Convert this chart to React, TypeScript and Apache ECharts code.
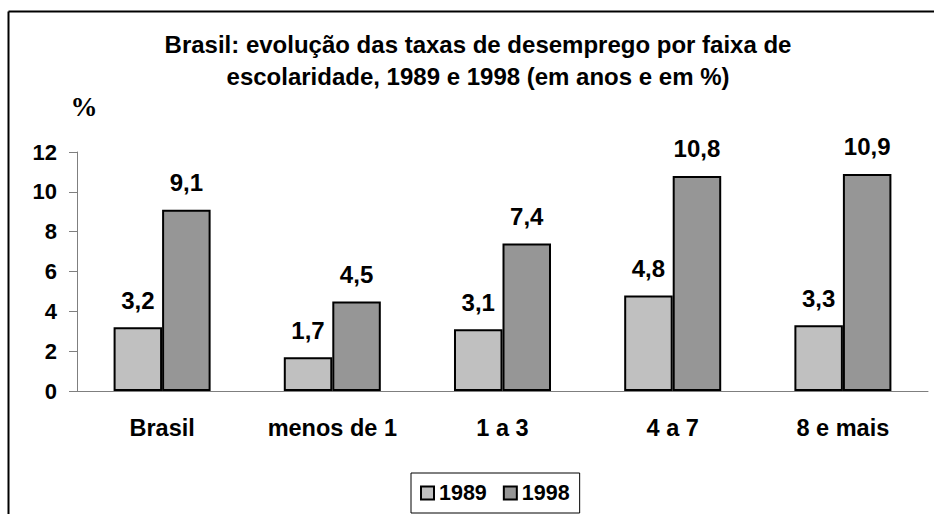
import React, { useEffect, useRef } from "react";
import * as echarts from "echarts";

const categories = ["Brasil", "menos de 1", "1 a 3", "4 a 7", "8 e mais"];
const values1989 = [3.2, 1.7, 3.1, 4.8, 3.3];
const values1998 = [9.1, 4.5, 7.4, 10.8, 10.9];
const seriesNames = ["1989", "1998"];
const titleLines = [
  "Brasil: evolução das taxas de desemprego por faixa de",
  "escolaridade, 1989 e 1998 (em anos e em %)",
];
const yUnit = "%";

const FONT = "Arial, 'Liberation Sans', sans-serif";

export default function App() {
  const ref = useRef<HTMLDivElement>(null);
  useEffect(() => {
    if (!ref.current) return;
    const chart = echarts.init(ref.current, null, { renderer: "svg" });
    const fmt = (p: any) => String(p.value).replace(".", ",");
    const barCommon = {
      type: "bar",
      barWidth: "28.5%",
      barGap: "0%",
      label: {
        show: true,
        position: "top",
        distance: 15,
        formatter: fmt,
        fontFamily: FONT,
        fontWeight: "bold",
        fontSize: 24,
        color: "#000",
      },
    };
    chart.setOption({
      animation: false,
      backgroundColor: "#fff",
      grid: { left: 77, right: 6, top: 152, bottom: 123 },
      xAxis: {
        type: "category",
        data: categories,
        axisLine: { lineStyle: { color: "#7f7f7f", width: 1 } },
        axisTick: { length: 7, lineStyle: { color: "#7f7f7f" } },
        axisLabel: {
          margin: 25,
          fontFamily: FONT,
          fontWeight: "bold",
          fontSize: 23.5,
          color: "#000",
        },
      },
      yAxis: {
        type: "value",
        min: 0,
        max: 12,
        interval: 2,
        splitLine: { show: false },
        axisLine: { show: true, lineStyle: { color: "#7f7f7f", width: 1 } },
        axisTick: { show: true, inside: false, length: 8, lineStyle: { color: "#7f7f7f" } },
        axisLabel: {
          margin: 20,
          fontFamily: FONT,
          fontWeight: "bold",
          fontSize: 22,
          color: "#000",
        },
      },
      legend: {
        data: seriesNames,
        left: 411,
        top: 473,
        orient: "horizontal",
        icon: "rect",
        itemWidth: 13,
        itemHeight: 13,
        itemGap: 16,
        padding: [9, 10, 9, 9],
        borderColor: "#000",
        borderWidth: 1,
        textStyle: {
          fontFamily: FONT,
          fontWeight: "bold",
          fontSize: 21.5,
          color: "#000",
        },
      },
      series: [
        {
          ...barCommon,
          name: seriesNames[0],
          data: values1989,
          itemStyle: { color: "#c0c0c0", borderColor: "#000", borderWidth: 2 },
        },
        {
          ...barCommon,
          name: seriesNames[1],
          data: values1998,
          itemStyle: { color: "#969696", borderColor: "#000", borderWidth: 2 },
        },
      ],
      graphic: [
        {
          type: "line",
          shape: { x1: 8.5, y1: 11.5, x2: 934, y2: 11.5 },
          style: { stroke: "#000", lineWidth: 2 },
        },
        {
          type: "line",
          shape: { x1: 8.5, y1: 11.5, x2: 8.5, y2: 514 },
          style: { stroke: "#000", lineWidth: 2 },
        },
        {
          type: "text",
          x: 478,
          y: 44,
          style: {
            text: titleLines[0],
            textAlign: "center",
            textVerticalAlign: "middle",
            fontFamily: FONT,
            fontWeight: "bold",
            fontSize: 24,
            fill: "#000",
          },
        },
        {
          type: "text",
          x: 478,
          y: 76,
          style: {
            text: titleLines[1],
            textAlign: "center",
            textVerticalAlign: "middle",
            fontFamily: FONT,
            fontWeight: "bold",
            fontSize: 24,
            fill: "#000",
          },
        },
        {
          type: "text",
          x: 84,
          y: 107,
          style: {
            text: yUnit,
            textAlign: "center",
            textVerticalAlign: "middle",
            font: "bold 27px 'Liberation Serif', Times, serif",
            fill: "#000",
          },
        },
      ],
    });
    return () => chart.dispose();
  }, []);
  return (
    <div
      ref={ref}
      style={{ position: "fixed", left: 0, top: 0, width: 934, height: 514 }}
    />
  );
}
